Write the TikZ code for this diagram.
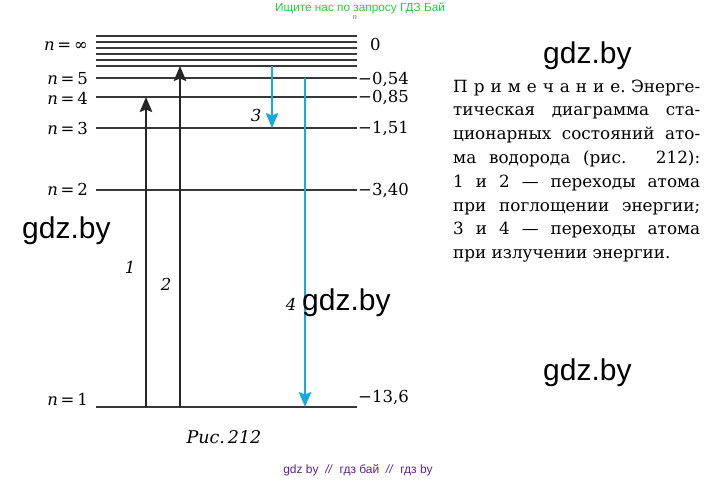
\documentclass[tikz,border=0pt]{standalone}
\usepackage{fontspec}
\setmainfont{DejaVu Serif}
\newfontfamily\wmfont{Liberation Sans}
\usepackage{xcolor}
\usetikzlibrary{positioning,arrows.meta}
\definecolor{emitblue}{RGB}{20,170,228}
\definecolor{wmgreen}{RGB}{45,200,65}
\definecolor{wmpurple}{RGB}{95,35,140}
\newcommand{\lev}[1]{\textit{n}\,=\,#1}
\newcommand{\ls}{\kern6pt}

\begin{document}
\begin{tikzpicture}[x=1pt,y=-1pt,
    level/.style={line width=2pt,draw=black!78},
    absorb/.style={-{Stealth[length=15pt,width=12.5pt,inset=2.5pt]},line width=2pt,
                   draw=black!85,fill=black!85},
    emit/.style={absorb,draw=emitblue,fill=emitblue},
    lbl/.style={font=\fontsize{16.5}{18}\selectfont,inner sep=0pt,
                text height=11.5pt,text depth=0pt},
    num/.style={lbl,font=\fontsize{16.5}{18}\selectfont\itshape},
    wm/.style={font=\wmfont\fontsize{30}{32}\selectfont,inner sep=0pt,anchor=base west}
]
\useasboundingbox (0,0) rectangle (718,480);

% energy levels
\foreach \y in {36,42,48,54,60,66}
  \draw[level] (96,\y) -- (357,\y);
\draw[level] (96,78) -- (357,78);
\draw[level] (96,97) -- (357,97);
\draw[level] (96,128) -- (357,128);
\draw[level] (96,190) -- (357,190);
\draw[level] (96,407) -- (357,407);

% level names
\node[lbl,anchor=east] (ninf) at (88,45) {\lev{∞}};
\node[lbl,anchor=east] (n5) at (88,79) {\lev{5}};
\node[lbl,anchor=east] (n4) at (88,99) {\lev{4}};
\node[lbl,anchor=east] (n3) at (88,129) {\lev{3}};
\node[lbl,anchor=east] (n2) at (88,190) {\lev{2}};
\node[lbl,anchor=east] (n1) at (88,400) {\lev{1}};
\node[font=\fontsize{7}{8}\selectfont\itshape,text=black!60,inner sep=0pt] (ntop) at (355,18) {n};

% energies
\node[lbl,anchor=west] (e0) at (370,45) {0};
\node[lbl,anchor=west] (e5) at (358,79) {−0,54};
\node[lbl,anchor=west] (e4) at (358,97) {−0,85};
\node[lbl,anchor=west] (e3) at (358,128) {−1,51};
\node[lbl,anchor=west] (e2) at (358,190) {−3,40};
\node[lbl,anchor=west] (e1) at (358,397) {−13,6};

% transitions
\coordinate (a1s) at (146,407);
\coordinate (a1e) at (146,97);
\coordinate (a2s) at (180,407);
\coordinate (a2e) at (180,66);
\coordinate (a3s) at (272,66);
\coordinate (a3e) at (272,128);
\coordinate (a4s) at (305,78);
\coordinate (a4e) at (305,407);
\draw[absorb] (a1s) -- (a1e);
\draw[absorb] (a2s) -- (a2e);
\draw[emit] (a3s) -- (a3e);
\draw[emit] (a4s) -- (a4e);

\node[num] (t1) at (130,268) {1};
\node[num] (t2) at (166,285) {2};
\node[num] (t3) at (256,116) {3};
\node[num] (t4) at (291,305) {4};

\node[num,font=\fontsize{17.5}{19}\selectfont\itshape] (cap) at (224,438) {Рис.\,212};

% note
\node[anchor=north west,text width=247pt,align=justify,inner sep=0pt,
      font=\fontsize{16.8}{23.8}\selectfont] (note) at (453,79.5)
  {\tolerance=9999 \hbox to 247pt{П\ls р\ls и\ls м\ls е\ls ч\ls а\ls н\ls и\ls е.\hfill Энерге-}\linebreak
   тическая диаграмма ста-\linebreak
   ционарных состояний ато-\linebreak
   ма водорода (рис. 212):\linebreak
   1 и 2 — переходы атома\linebreak
   при поглощении энергии;\linebreak
   3 и 4 — переходы атома\linebreak
   при излучении энергии.};

% watermarks
\node[font=\wmfont\fontsize{11.8}{14}\selectfont,text=wmgreen,inner sep=0pt] (ad) at (360,8)
  {Ищите нас по запросу ГДЗ Бай};
\node[wm] (wm1) at (543,63.3) {gdz.by};
\node[wm] (wm2) at (22,238) {gdz.by};
\node[wm] (wm3) at (302,310.7) {gdz.by};
\node[wm] (wm4) at (543,380) {gdz.by};
\node[font=\wmfont\fontsize{12}{14}\selectfont,text=wmpurple,inner sep=0pt] (foot) at (358,470)
  {gdz by \ \textit{//} \ гдз бай \ \textit{//} \ гдз by};
\end{tikzpicture}
\end{document}
